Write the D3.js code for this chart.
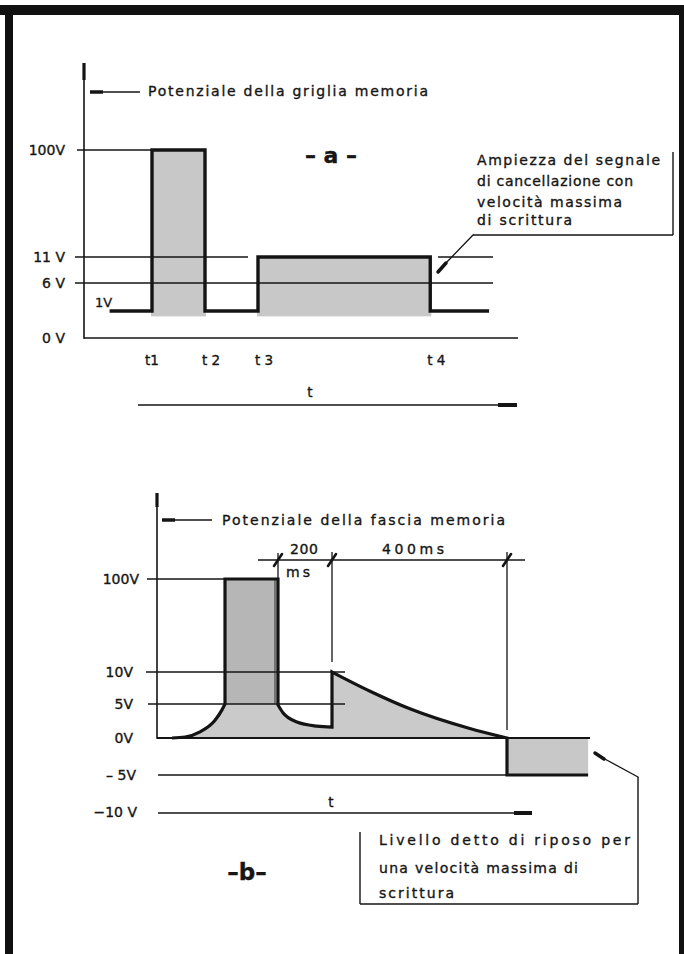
<!DOCTYPE html>
<html><head><meta charset="utf-8">
<script src="https://cdn.jsdelivr.net/npm/d3@7"></script>
<style>
html,body{margin:0;padding:0;background:#fff;}
text{font-family:"DejaVu Sans",Verdana,sans-serif;fill:#161616;stroke:#161616;stroke-width:0.35px;}
</style>
</head><body>
<svg id="c" width="684" height="954"></svg>
<script>
// ---------------- DATA ----------------
// Chart a: grid potential
const levelsA = [0, 1, 6, 11, 100];
const levelLabelsA = ["0 V", "1V", "6 V", "11 V", "100V"];
const timeTicksA = [1, 2, 3, 6.25];
const timeLabelsA = ["t1", "t 2", "t 3", "t 4"];
const waveA = [[0.2,1],[1,1],[1,100],[2,100],[2,1],[3,1],[3,11],[6.25,11],[6.25,1],[7.36,1]];
const pulsesA = [[1,2,100],[3,6.25,11]];
const titleA = "Potenziale della griglia memoria";
const noteA = ["Ampiezza del segnale","di cancellazione con","velocità massima","di scrittura"];

// Chart b: memory band potential
const levelsB = [-10, -5, 0, 5, 10, 100];
const levelLabelsB = ["\u221210 V", "\u2013 5V", "0V", "5V", "10V", "100V"];
const riseB   = [[-217,0],[-188,0.15],[-155,0.9],[-122,2.6],[-107,4.1],[-100,5]];
const pulseB  = [-100, 0, 100];
const decay1B = [[0,4.85],[18.5,3.7],[70,2.35],[144,1.75],[200,1.6]];
const decay2B = [[200,10],[287,7.0],[378,4.3],[515,1.4],[600,0]];
const restB   = [600, 815, -5];
const dimTimesB = [0, 200, 600];
const dimLabelsB = ["200", "ms", "400ms"];
const titleB = "Potenziale della fascia memoria";
const noteB = ["Livello detto di riposo per","una velocità massima di","scrittura"];

// ---------------- DRAW ----------------
const svg = d3.select("#c");
svg.append("rect").attr("width",684).attr("height",954).attr("fill","#fff");

// page frame (scan borders)
svg.append("rect").attr("x",0).attr("y",5).attr("width",684).attr("height",10).attr("fill","#111");
svg.append("rect").attr("x",5).attr("y",5).attr("width",8).attr("height",949).attr("fill","#111");
svg.append("rect").attr("x",679).attr("y",5).attr("width",5).attr("height",949).attr("fill","#111");

const INK = "#141414";
function hline(x1,x2,y,w){svg.append("line").attr("x1",x1).attr("x2",x2).attr("y1",y).attr("y2",y).attr("stroke",INK).attr("stroke-width",w||1.4);}
function vline(x,y1,y2,w,c){svg.append("line").attr("x1",x).attr("x2",x).attr("y1",y1).attr("y2",y2).attr("stroke",c||INK).attr("stroke-width",w||1.4);}
function line(x1,y1,x2,y2,w){svg.append("line").attr("x1",x1).attr("x2",x2).attr("y1",y1).attr("y2",y2).attr("stroke",INK).attr("stroke-width",w||1.4).attr("stroke-linecap","round");}
function txt(s,x,y,opt){opt=opt||{};const t=svg.append("text").attr("x",x).attr("y",y).attr("font-size",opt.size||14).text(s);
  if(opt.anchor)t.attr("text-anchor",opt.anchor); if(opt.weight)t.attr("font-weight",opt.weight);
  if(opt.len)t.attr("textLength",opt.len).attr("lengthAdjust","spacing"); return t;}

// ===== Chart a =====
const yA = d3.scaleLinear().domain(levelsA).range([338,311,283,257,150]);
const xA = d3.scaleLinear().domain([0,1]).range([99,152]);

// fills
pulsesA.forEach(p=>{
  svg.append("rect").attr("x",xA(p[0])-1).attr("y",yA(p[2])).attr("width",xA(p[1])-xA(p[0])+2)
    .attr("height",yA(0.8)-yA(p[2])).attr("fill","#c8c8c8");
});
// axis
vline(84,63,yA(0)+0.7,1.6);
vline(84,63,80,3.2);
hline(84,518,yA(0),1.6);
// level lines
hline(77,xA(1),yA(100),1.4);
hline(75,248,yA(11),1.4); hline(438,493,yA(11),1.4);
hline(75,493,yA(6),1.6);
// waveform
svg.append("path").attr("d",d3.line().x(d=>xA(d[0])).y(d=>yA(d[1]))(waveA))
  .attr("fill","none").attr("stroke",INK).attr("stroke-width",3.4).attr("stroke-linejoin","miter");
// level labels
levelsA.forEach((v,i)=>{
  if(v===1) txt(levelLabelsA[i],95,yA(v)-4,{size:13});
  else txt(levelLabelsA[i],65,yA(v)+5,{anchor:"end"});
});
// time labels
timeTicksA.forEach((t,i)=>txt(timeLabelsA[i],xA(t)+(i===0?0:6),365,{anchor:"middle",size:13.5}));
// time axis
hline(138,517,405,1.4); hline(498,517,405,4);
txt("t",310,397,{anchor:"middle",size:13.5});
// title legend
hline(90,103,92,3.5); hline(103,140,92,1.4);
txt(titleA,148,96,{len:280});
txt("\u2013 a \u2013",331,163,{anchor:"middle",weight:"bold",size:22});
// annotation
noteA.forEach((s,i)=>txt(s,477,[165,186,207,225][i],{len:[183,156,145,95][i]}));
vline(673,152,235,1.4); hline(473,673,235,1.4);
line(473,235,445,264,1.3); line(446,263,438,272,3.5);

// ===== Chart b =====
const yB = d3.scaleLinear().domain(levelsB).range([813,775,738,704,672,579]);
const xB = d3.scaleLinear().domain([-250,-100,0,200,600,820]).range([157,225,278,332,507,590]);
const cl = d3.line().x(d=>xB(d[0])).y(d=>yB(d[1])).curve(d3.curveMonotoneX);
const L = p=>"L"+xB(p[0])+","+yB(p[1]);
const cont = s=>s.replace(/^M/,"L");

const wavePath = cl(riseB) + L([pulseB[0],pulseB[2]]) + L([pulseB[1],pulseB[2]]) + cont(cl(decay1B))
  + L(decay2B[0]) + cont(cl(decay2B));
// fill (light) under whole positive waveform
svg.append("path").attr("d", wavePath + L([decay2B[decay2B.length-1][0],0]) + L([riseB[0][0],0]) + "Z")
  .attr("fill","#cacaca");
// darker pulse body
svg.append("rect").attr("x",xB(pulseB[0])).attr("y",yB(pulseB[2])).attr("width",xB(pulseB[1])-xB(pulseB[0]))
  .attr("height",yB(5)-yB(pulseB[2])).attr("fill","#b6b6b6");
// negative rest level fill
svg.append("rect").attr("x",xB(restB[0])).attr("y",yB(0)).attr("width",xB(restB[1])-xB(restB[0]))
  .attr("height",yB(restB[2])-yB(0)).attr("fill","#c8c8c8");

// axis
vline(157,493,yB(0)+0.7,1.6); vline(157,493,507,3.2);
// level lines
hline(147,xB(pulseB[0]),yB(100),1.4);
hline(146,345,yB(10),1.4);
hline(148,345,yB(5),1.4);
hline(157,590,yB(0),2);
hline(158,588,yB(-5),1.4);
hline(158,532,yB(-10),1.4); hline(514,532,yB(-10),4);
// thin extension line inside pulse
vline(xB(0)-3,yB(100),yB(5),1,"#333");
// waveform stroke
svg.append("path").attr("d", wavePath + L([restB[0],restB[2]]) + L([restB[1],restB[2]]))
  .attr("fill","none").attr("stroke",INK).attr("stroke-width",3.2).attr("stroke-linejoin","miter");
// level labels
levelsB.forEach((v,i)=>{
  const x = v===100?139:(v===-10?137:(v===-5?136:133));
  txt(levelLabelsB[i],x,yB(v)+(v===-10?4:5),{anchor:"end"});
});
// time axis label
txt("t",331,807,{anchor:"middle",size:13.5});
// title legend
hline(162,175,520,3.5); hline(175,212,520,1.4);
txt(titleB,222,525,{len:283});
// dimension lines
const dimY = 560;
hline(xB(0)-20,xB(600)+18,dimY,1.4);
vline(xB(0),dimY-7,yB(100),1.3);
vline(xB(200),dimY-8,662,1.3);
vline(xB(600),dimY-8,730,1.3);
dimTimesB.forEach(t=>line(xB(t)-4,dimY+6,xB(t)+4,dimY-6,2.6));
txt(dimLabelsB[0],290,554,{len:28});
txt(dimLabelsB[1],286,577,{len:24});
txt(dimLabelsB[2],382,554,{len:62});
// -b-
txt("\u2013b\u2013",247,880,{anchor:"middle",weight:"bold",size:23});
// annotation box
vline(360,832,904,1.4); hline(360,638,904,1.4); vline(638,777,904,1.4);
line(638,777,603,758,1.3); line(604,759,595,753,3.5);
noteB.forEach((s,i)=>txt(s,379,[845,873,898][i],{len:[251,199,75][i]}));
</script>
</body></html>
